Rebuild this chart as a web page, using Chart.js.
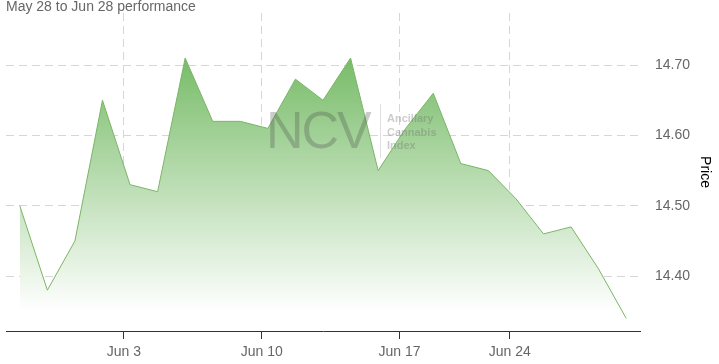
<!DOCTYPE html>
<html>
<head>
<meta charset="utf-8">
<script src="https://cdn.jsdelivr.net/npm/chart.js@4.4.1/dist/chart.umd.min.js"></script>
<style>
  html, body { margin: 0; padding: 0; background: #fff; }
  #wrap { position: relative; width: 719px; height: 364px; }
  #title { position: absolute; left: 6px; top: -2px; font: 14px "Liberation Sans", Arial, sans-serif; color: #666; white-space: nowrap; }
  #wm-big { position: absolute; left: 266px; top: 104px; font: 52px/52px "Liberation Sans", Arial, sans-serif; color: rgba(70,70,70,0.28); letter-spacing: -2px; white-space: nowrap; }
  #wm-bar { position: absolute; left: 380px; top: 104px; width: 1px; height: 54px; background: rgba(0,0,0,0.12); }
  #wm-small { position: absolute; left: 387px; top: 112px; font: bold 11px/13.5px "Liberation Sans", Arial, sans-serif; color: rgba(110,110,110,0.35); white-space: nowrap; }
</style>
</head>
<body>
<div id="wrap">
  <canvas id="c" width="719" height="364"></canvas>
  <div id="title">May 28 to Jun 28 performance</div>
  <div id="wm-big">NCV</div>
  <div id="wm-bar"></div>
  <div id="wm-small">Ancillary<br>Cannabis<br>Index</div>
</div>
<script>
// Trading days (2024) and closing prices
const dates = ['2024-05-28','2024-05-29','2024-05-30','2024-05-31','2024-06-03','2024-06-04','2024-06-05','2024-06-06','2024-06-07','2024-06-10','2024-06-11','2024-06-12','2024-06-13','2024-06-14','2024-06-17','2024-06-18','2024-06-20','2024-06-21','2024-06-24','2024-06-25','2024-06-26','2024-06-27','2024-06-28'];
const prices = [14.50,14.38,14.45,14.65,14.53,14.52,14.71,14.62,14.62,14.61,14.68,14.65,14.71,14.55,14.61,14.66,14.56,14.55,14.51,14.46,14.47,14.41,14.34];
const xTickDates = ['2024-06-03','2024-06-10','2024-06-17','2024-06-24'];
const xTickLabels = ['Jun 3','Jun 10','Jun 17','Jun 24'];
const yTicks = [14.40,14.50,14.60,14.70];
const yMin = 14.322, yMax = 14.774;

function ts(d, hour) { const p = d.split('-').map(Number); return Date.UTC(p[0], p[1]-1, p[2], hour || 0); }
const dataTs = dates.map(d => ts(d, 16));
// position of a calendar date on the trading-day (timeseries-like) axis
function datePos(d) {
  const t = ts(d, 0);
  for (let i = 0; i < dataTs.length - 1; i++) {
    if (t >= dataTs[i] && t < dataTs[i+1]) return i + (t - dataTs[i]) / (dataTs[i+1] - dataTs[i]);
  }
  return 0;
}
const xTickPos = xTickDates.map(datePos);
const points = prices.map((v, i) => ({ x: i, y: v }));
const FONT = '"Liberation Sans", Arial, sans-serif';

const ctx = document.getElementById('c').getContext('2d');
new Chart(ctx, {
  type: 'line',
  data: {
    datasets: [{
      data: points,
      borderColor: 'rgb(122,181,102)',
      borderWidth: 1,
      pointRadius: 0,
      tension: 0,
      fill: 'start',
      backgroundColor: function(context) {
        const ca = context.chart.chartArea;
        if (!ca) return 'rgba(110,185,90,0.6)';
        const g = context.chart.ctx.createLinearGradient(0, ca.top, 0, ca.bottom);
        g.addColorStop(0, 'rgb(96,176,78)');
        g.addColorStop(0.94, 'rgb(255,255,255)');
        g.addColorStop(1, 'rgb(255,255,255)');
        return g;
      }
    }]
  },
  options: {
    responsive: false,
    animation: false,
    layout: { padding: { left: 6, right: 6, top: 13, bottom: 0 } },
    plugins: { legend: { display: false }, tooltip: { enabled: false }, title: { display: false } },
    scales: {
      x: {
        type: 'linear',
        min: -0.5,
        max: prices.length - 0.5,
        afterBuildTicks: function(scale) { scale.ticks = xTickPos.map(v => ({ value: v })); },
        afterFit: function(scale) { scale.height = 33; scale.paddingLeft = 0; scale.paddingRight = 0; },
        ticks: {
          autoSkip: false,
          maxRotation: 0,
          padding: 5,
          color: '#666',
          font: { family: FONT, size: 14 },
          callback: function(value, index) { return xTickLabels[index]; }
        },
        grid: {
          color: '#d6d6d6',
          lineWidth: 1,
          drawTicks: true,
          tickLength: 8,
          tickColor: '#333',
          tickBorderDash: [],
          tickWidth: 1
        },
        border: { display: true, color: '#333', width: 1, dash: [8, 5] }
      },
      y: {
        type: 'linear',
        position: 'right',
        min: yMin,
        max: yMax,
        afterBuildTicks: function(scale) { scale.ticks = yTicks.map(v => ({ value: v })); },
        afterFit: function(scale) { scale.width = 73; scale.paddingTop = 0; scale.paddingBottom = 0; },
        ticks: {
          padding: 15,
          color: '#666',
          font: { family: FONT, size: 14 },
          callback: function(value) { return value.toFixed(2); }
        },
        grid: { color: '#d6d6d6', lineWidth: 1, drawTicks: false },
        border: { display: false, dash: [8, 5] },
        title: {
          display: true,
          text: 'Price',
          color: '#000',
          padding: { top: 0, bottom: 0 },
          font: { family: FONT, size: 14 }
        }
      }
    }
  }
});
</script>
</body>
</html>
